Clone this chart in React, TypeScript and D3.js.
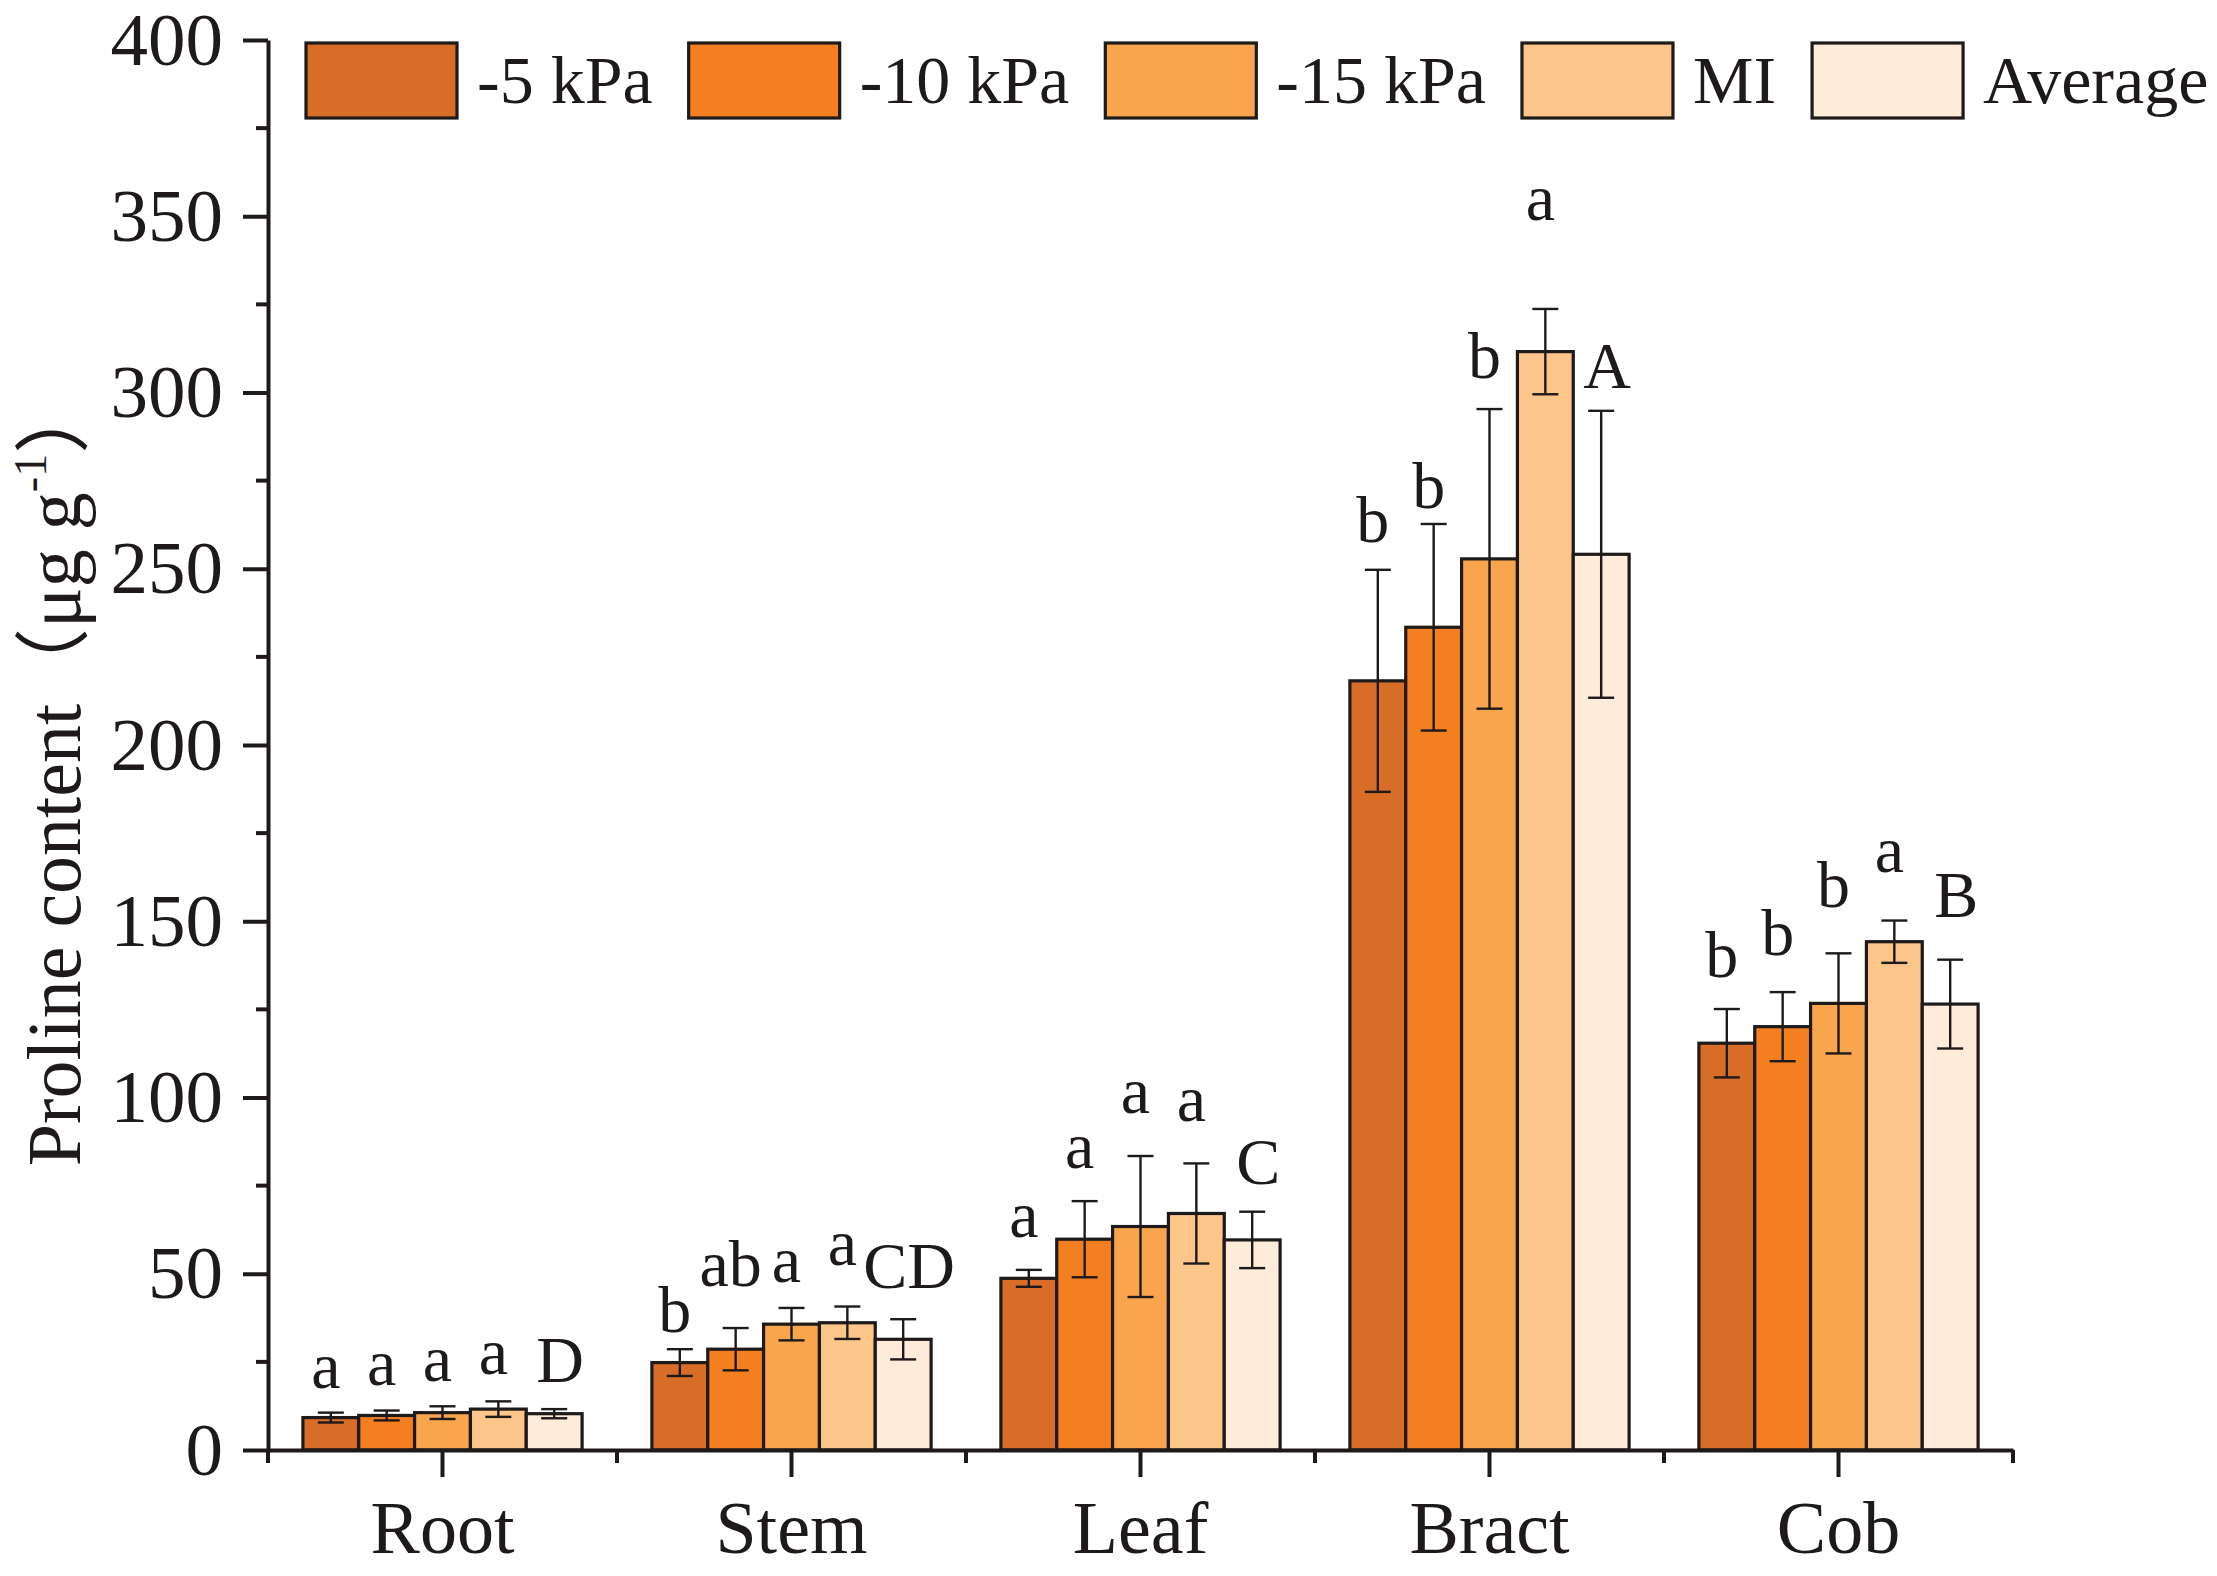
import React, {useEffect, useRef} from 'react'
import * as d3 from 'd3'

const categories = ['Root', 'Stem', 'Leaf', 'Bract', 'Cob']
const series = ['-5 kPa', '-10 kPa', '-15 kPa', 'MI', 'Average']
const colors = ['#D86D27', '#F47F20', '#F9A54E', '#FCC58A', '#FEEBDA']

// means
const kpa5 = [9.2, 24.8, 48.7, 218.2, 115.4]
const kpa10 = [9.8, 28.6, 59.8, 233.4, 120.1]
const kpa15 = [10.6, 35.7, 63.4, 252.8, 126.7]
const mi = [11.6, 36.1, 67.1, 311.6, 144.2]
const avg = [10.3, 31.4, 59.6, 254.1, 126.5]

// error bars (+/-)
const kpa5Err = [1.4, 3.8, 2.4, 31.5, 9.7]
const kpa10Err = [1.4, 6, 10.8, 29.3, 9.8]
const kpa15Err = [1.8, 4.6, 20, 42.5, 14.2]
const miErr = [2.2, 4.6, 14.2, 12.1, 6]
const avgErr = [1.3, 5.7, 8, 40.7, 12.6]

// significance letters
const kpa5Sig = ['a', 'b', 'a', 'b', 'b']
const kpa10Sig = ['a', 'ab', 'a', 'b', 'b']
const kpa15Sig = ['a', 'a', 'a', 'b', 'b']
const miSig = ['a', 'a', 'a', 'a', 'a']
const avgSig = ['D', 'CD', 'C', 'A', 'B']

// value at which each letter sits (baseline, in data units)
const kpa5At = [17.7, 33.5, 60.5, 257.6, 134.3]
const kpa10At = [18.5, 46.5, 79.9, 267.2, 140.4]
const kpa15At = [19.7, 47.7, 95.7, 304.1, 154]
const miAt = [21.7, 52.5, 93.3, 348.9, 164]
const avgAt = [19.3, 46, 75.5, 301.3, 151.3]

const yTicks = [0, 50, 100, 150, 200, 250, 300, 350, 400]
const yMinor = [25, 75, 125, 175, 225, 275, 325, 375]

const values = [kpa5, kpa10, kpa15, mi, avg]
const errors = [kpa5Err, kpa10Err, kpa15Err, miErr, avgErr]
const sigs = [kpa5Sig, kpa10Sig, kpa15Sig, miSig, avgSig]
const sigAt = [kpa5At, kpa10At, kpa15At, miAt, avgAt]

const W = 2217
const H = 1576
const margin = {top: 40, right: 204, bottom: 126, left: 268}
const font = '"Liberation Serif", "Times New Roman", "Noto Sans CJK SC", serif'
const ink = '#1e1a1a'

export default function App() {
  const ref = useRef<SVGSVGElement>(null)

  useEffect(() => {
    const svg = d3.select(ref.current)
    svg.selectAll('*').remove()

    const x = d3.scaleBand().domain(categories).range([margin.left, W - margin.right]).padding(0)
    const gpad = x.bandwidth() * 0.1
    const xs = d3.scaleBand().domain(series).range([gpad, x.bandwidth() - gpad]).padding(0)
    const y = d3.scaleLinear().domain([0, 400]).range([H - margin.bottom, margin.top])

    const rows = categories.flatMap((c, ci) =>
      series.map((s, si) => ({
        c, s, si,
        v: values[si][ci], e: errors[si][ci], sig: sigs[si][ci], at: sigAt[si][ci],
        cx: (x(c) as number) + (xs(s) as number) + xs.bandwidth() / 2,
      }))
    )

    // bars
    svg.append('g').selectAll('rect').data(rows).enter().append('rect')
      .attr('x', d => d.cx - xs.bandwidth() / 2)
      .attr('width', xs.bandwidth())
      .attr('y', d => y(d.v))
      .attr('height', d => y(0) - y(d.v))
      .attr('fill', d => colors[d.si])
      .attr('stroke', ink)
      .attr('stroke-width', 3.2)

    // error bars
    const eb = svg.append('g').attr('stroke', ink).attr('stroke-width', 2.4)
    const cap = 13
    rows.forEach(d => {
      eb.append('line').attr('x1', d.cx).attr('x2', d.cx).attr('y1', y(d.v + d.e)).attr('y2', y(d.v - d.e))
      eb.append('line').attr('x1', d.cx - cap).attr('x2', d.cx + cap).attr('y1', y(d.v + d.e)).attr('y2', y(d.v + d.e))
      eb.append('line').attr('x1', d.cx - cap).attr('x2', d.cx + cap).attr('y1', y(d.v - d.e)).attr('y2', y(d.v - d.e))
    })

    // letters (lower case sit a touch left, capitals a touch right, as in the figure)
    svg.append('g').selectAll('text').data(rows).enter().append('text')
      .attr('x', d => d.cx + (d.sig === d.sig.toUpperCase() ? 6 : -5))
      .attr('y', d => y(d.at))
      .attr('text-anchor', 'middle')
      .attr('font-family', font)
      .attr('font-size', 66)
      .attr('fill', ink)
      .text(d => d.sig)

    // y axis
    const yAxis = svg.append('g').attr('transform', `translate(${margin.left},0)`)
      .call(d3.axisLeft(y).tickValues(yTicks).tickSize(25).tickSizeOuter(0).tickPadding(20))
    yAxis.append('g').selectAll('line').data(yMinor).enter().append('line')
      .attr('x1', -12).attr('x2', 0).attr('y1', d => y(d)).attr('y2', d => y(d))
    yAxis.selectAll('path, line').attr('stroke', ink).attr('stroke-width', 4)
    yAxis.selectAll('text').attr('font-family', font).attr('font-size', 75).attr('fill', ink)

    // x axis
    const xAxis = svg.append('g').attr('transform', `translate(0,${y(0)})`)
      .call(d3.axisBottom(x).tickSize(27).tickSizeOuter(0).tickPadding(23))
    const bounds = [...categories.map(c => x(c) as number), x.range()[1]]
    xAxis.append('g').selectAll('line').data(bounds).enter().append('line')
      .attr('x1', d => d).attr('x2', d => d).attr('y1', 0).attr('y2', 13)
    xAxis.selectAll('path, line').attr('stroke', ink).attr('stroke-width', 4)
    xAxis.selectAll('text').attr('font-family', font).attr('font-size', 74).attr('fill', ink)

    // y title
    const title = svg.append('text')
      .attr('transform', `translate(80,${772}) rotate(-90)`)
      .attr('text-anchor', 'middle')
      .attr('font-family', font)
      .attr('font-size', 76)
      .attr('fill', ink)
    title.append('tspan').text('Proline content')
    title.append('tspan').text('（')
    title.append('tspan').text('μg g')
    title.append('tspan').attr('font-size', 46).attr('dy', -34).text('-1')
    title.append('tspan').attr('dy', 34).text('）')

    // legend
    const leg = svg.append('g')
    let lx = 306
    series.forEach((s, i) => {
      leg.append('rect').attr('x', lx).attr('y', 43).attr('width', 151).attr('height', 75)
        .attr('fill', colors[i]).attr('stroke', ink).attr('stroke-width', 3.2)
      const t = leg.append('text').attr('x', lx + 171).attr('y', 103)
        .attr('font-family', font).attr('font-size', 68).attr('fill', ink).text(s)
      const w = (t.node() as SVGTextElement).getComputedTextLength()
      lx = lx + 171 + w + 36
    })
  }, [])

  return (
    <svg ref={ref} width={W} height={H}
      style={{position: 'absolute', left: 0, top: 0, background: '#fff'}} />
  )
}
